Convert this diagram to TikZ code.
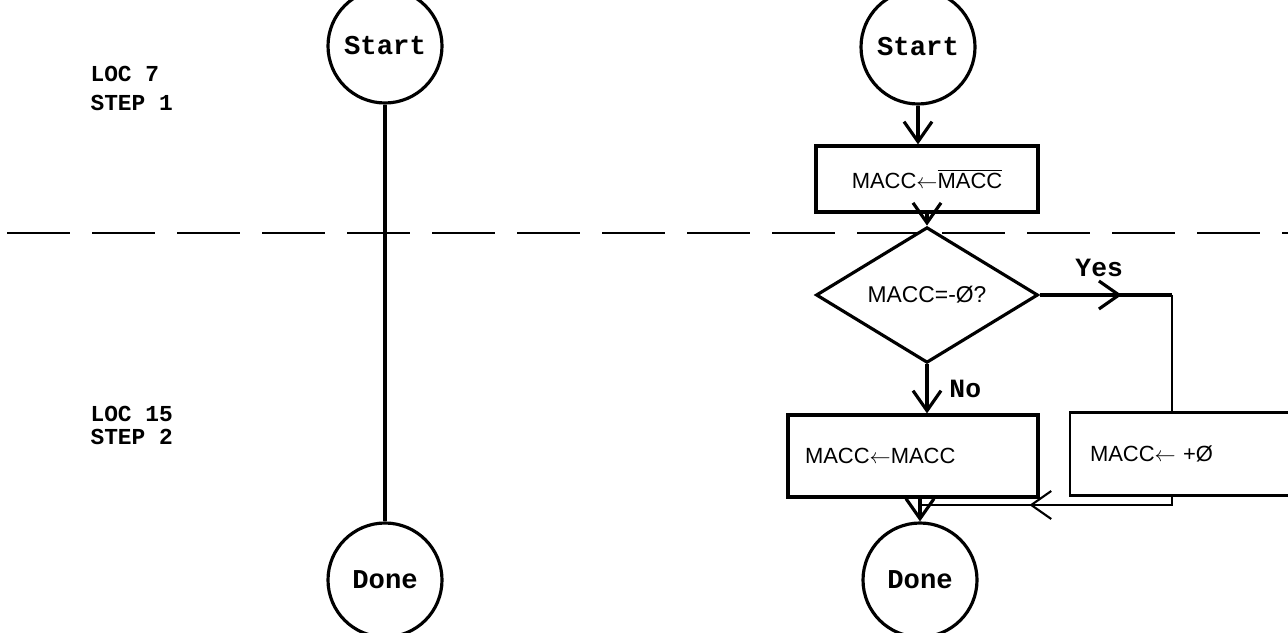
\documentclass[tikz,border=0pt]{standalone}
\usepackage{fontspec}
\setmainfont{Liberation Serif}
\setsansfont{Liberation Sans}
\setmonofont{Liberation Mono}
\usepackage{tikz}
\usetikzlibrary{arrows.meta, shapes.geometric, decorations.markings, positioning}
\tikzset{>={Straight Barb[length=4mm,width=5.6mm]}}

\begin{document}
\begin{tikzpicture}[line width=1.8pt,
    term/.style={draw, circle, minimum size=2.28cm, inner sep=0pt, font=\ttfamily\bfseries\fontsize{15.5}{18}\selectfont},
    proc/.style={draw, rectangle, inner sep=0pt, font=\sffamily\fontsize{12.5}{15}\selectfont},
    decide/.style={draw, diamond, inner sep=0pt, minimum width=4.44cm, minimum height=1.8cm, font=\sffamily\fontsize{13}{15}\selectfont},
    tag/.style={anchor=west, align=left, inner sep=0pt, font=\ttfamily\bfseries\fontsize{13}{16.4}\selectfont},
    answer/.style={font=\ttfamily\bfseries\fontsize{15}{18}\selectfont},
    flowmark/.style={postaction={decorate}, decoration={markings, mark=at position #1 with {\arrow{>}}}}]
    \useasboundingbox (0,0) rectangle (25.76,12.64);
    \clip (0,0) rectangle (25.76,12.64);

    \node[tag]	(L7)	at	(1.78,10.865)	{LOC 7\\STEP 1};
    \node[tag, font=\ttfamily\bfseries\fontsize{13}{13}\selectfont]	(L15)	at	(1.78,4.13)	{LOC 15\\STEP 2};

    \node[term]	(S1)	at	(7.70,11.72)	{Start};
    \node[term]	(E1)	at	(7.70,1.04)	{Done};
    \draw (S1) -- (E1);

    \node[term]	(S2)	at	(18.36,11.70)	{Start};
    \node[proc, minimum width=4.44cm, minimum height=1.32cm]	(B1)	at	(18.54,9.06)	{MACC$\leftarrow$$\overline{\mbox{MACC}}$};
    \node[decide]	(D)	at	(18.54,6.74)	{MACC=-Ø?};
    \node[proc, minimum width=5.0cm, minimum height=1.64cm, inner xsep=0.34cm, text width=4.32cm, align=left]	(B3)	at	(18.26,3.52)	{MACC$\leftarrow$MACC};
    \node[proc, line width=1.2pt, minimum width=4.6cm, minimum height=1.66cm, inner xsep=0.4cm, text width=3.8cm, align=left]	(B2)	at	(23.70,3.56)	{MACC$\leftarrow$\ +Ø};
    \node[term]	(E2)	at	(18.40,1.04)	{Done};

    \coordinate	(ycorner)	at	(23.44,6.74);
    \coordinate	(mjoin)	at	(18.40,2.54);
    \coordinate	(cutL)	at	(0,7.98);
    \coordinate	(cutR)	at	(25.76,7.98);

    \draw[line width=1.3pt, dash pattern=on 1.25cm off 0.45cm, dash phase=1.56cm] (cutL) -- (cutR);

    \draw[->] (S2.south) -- (S2.south |- B1.north);
    \draw[->] (B1.south -| D.north) -- (D.north);
    \draw[->] (D.south) -- (D.south |- B3.north) node[answer, pos=0.5, right=0.3cm] {No};
    \draw[flowmark=0.62] (D.east) -- (ycorner) node[answer, pos=0.45, above=0.22cm] {Yes};
    \draw[line width=1.2pt] (ycorner) -- (ycorner |- B2.north);
    \draw[line width=1.2pt, flowmark=0.58] (ycorner |- B2.south) |- (mjoin);
    \draw[->] (E2.north |- B3.south) -- (E2.north);
\end{tikzpicture}
\end{document}
